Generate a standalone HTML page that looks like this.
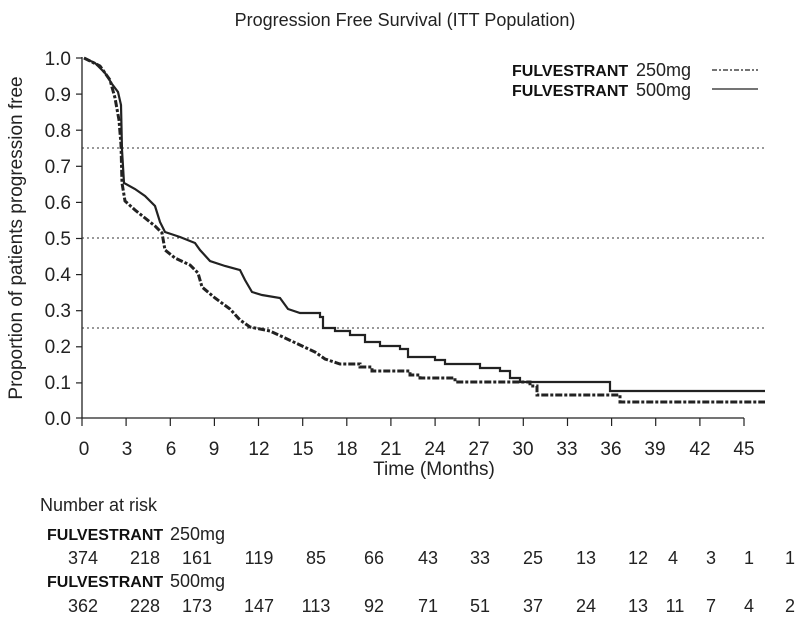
<!DOCTYPE html>
<html><head><meta charset="utf-8"><style>
html,body{margin:0;padding:0;background:#fff;}
svg{display:block;font-family:"Liberation Sans",sans-serif;}
.b{font-weight:bold;font-stretch:condensed;}
</style></head><body>
<svg width="802" height="620" viewBox="0 0 802 620" xmlns="http://www.w3.org/2000/svg">
<text x="405" y="26" font-size="18" text-anchor="middle" fill="#222">Progression Free Survival (ITT Population)</text>
<g stroke="#222" stroke-width="1.3" fill="none">
<line x1="82" y1="57" x2="82" y2="418"/>
<line x1="82" y1="418" x2="744" y2="418"/>
</g>
<g stroke="#222" stroke-width="1.2">
<line x1="76" y1="58" x2="82" y2="58"/><line x1="76" y1="94.1" x2="82" y2="94.1"/><line x1="76" y1="130.2" x2="82" y2="130.2"/><line x1="76" y1="166.3" x2="82" y2="166.3"/><line x1="76" y1="202.4" x2="82" y2="202.4"/><line x1="76" y1="238.5" x2="82" y2="238.5"/><line x1="76" y1="274.6" x2="82" y2="274.6"/><line x1="76" y1="310.7" x2="82" y2="310.7"/><line x1="76" y1="346.8" x2="82" y2="346.8"/><line x1="76" y1="382.9" x2="82" y2="382.9"/><line x1="76" y1="418" x2="82" y2="418"/>
</g>
<g stroke="#222" stroke-width="1.2">
<line x1="82" y1="418" x2="82" y2="426"/><line x1="126.1" y1="418" x2="126.1" y2="426"/><line x1="170.3" y1="418" x2="170.3" y2="426"/><line x1="214.4" y1="418" x2="214.4" y2="426"/><line x1="258.5" y1="418" x2="258.5" y2="426"/><line x1="302.7" y1="418" x2="302.7" y2="426"/><line x1="346.8" y1="418" x2="346.8" y2="426"/><line x1="390.9" y1="418" x2="390.9" y2="426"/><line x1="435.1" y1="418" x2="435.1" y2="426"/><line x1="479.2" y1="418" x2="479.2" y2="426"/><line x1="523.3" y1="418" x2="523.3" y2="426"/><line x1="567.5" y1="418" x2="567.5" y2="426"/><line x1="611.6" y1="418" x2="611.6" y2="426"/><line x1="655.7" y1="418" x2="655.7" y2="426"/><line x1="699.9" y1="418" x2="699.9" y2="426"/><line x1="744" y1="418" x2="744" y2="426"/>
</g>
<g font-size="19" fill="#222" text-anchor="end">
<text x="71" y="65">1.0</text><text x="71" y="101">0.9</text><text x="71" y="137">0.8</text><text x="71" y="173">0.7</text><text x="71" y="209">0.6</text><text x="71" y="245">0.5</text><text x="71" y="281">0.4</text><text x="71" y="317">0.3</text><text x="71" y="353">0.2</text><text x="71" y="389">0.1</text><text x="71" y="425">0.0</text>
</g>
<g font-size="19" fill="#222" text-anchor="middle">
<text x="84" y="455">0</text><text x="127" y="455">3</text><text x="171" y="455">6</text><text x="214" y="455">9</text><text x="259" y="455">12</text><text x="303" y="455">15</text><text x="347" y="455">18</text><text x="391" y="455">21</text><text x="435" y="455">24</text><text x="479" y="455">27</text><text x="523" y="455">30</text><text x="567" y="455">33</text><text x="611" y="455">36</text><text x="655" y="455">39</text><text x="700" y="455">42</text><text x="744" y="455">45</text>
<text x="434" y="475">Time (Months)</text>
</g>
<text transform="translate(22,238) rotate(-90)" font-size="19" fill="#222" text-anchor="middle">Proportion of patients progression free</text>
<g stroke="#333" stroke-width="1" stroke-dasharray="2 3">
<line x1="82" y1="148" x2="765" y2="148"/>
<line x1="82" y1="238" x2="765" y2="238"/>
<line x1="82" y1="328" x2="765" y2="328"/>
</g>
<path d="M84 58 L95 63 L105 73 L112 84 L118 92 L121 105 L122 150 L124 183 L135 189 L145 196 L155 206 L160 222 L165 232 L180 237 L195 243 L200 250 L210 261 L225 266 L240 270 L245 280 L252 292 L262 295 L280 298 L288 309 L300 313 H320 V317 H323 V328 H335 V331 H350 V335 H365 V342 H380 V346 H400 V349 H408 V357 H435 V360 H445 V364 H480 V368 H500 V371 H510 V378 H520 V382 H610 V391 H765" fill="none" stroke="#222" stroke-width="2.2"/>
<path d="M84 58 L100 66 L110 80 L115 98 L119 120 L121 145 L122 183 L125 201 L135 210 L145 218 L155 226 L162 233 L165 250 L175 258 L190 265 L198 273 L202 287 L215 298 L230 309 L240 320 L250 327 L270 331 L285 338 L300 345 L315 352 L325 359 L340 364 H360 V367 H372 V371 H410 V375 H420 V378 H455 V382 H530 V386 H537 V395 H620 V402 H765" fill="none" stroke="#222" stroke-width="3" stroke-dasharray="7 2 3 2"/>
<text x="512" y="76" font-size="16" class="b" fill="#111">FULVESTRANT</text>
<text x="636" y="76" font-size="18" fill="#222">250mg</text>
<line x1="712" y1="70" x2="758" y2="70" stroke="#222" stroke-width="1.2" stroke-dasharray="5 2 2 2"/>
<text x="512" y="96" font-size="16" class="b" fill="#111">FULVESTRANT</text>
<text x="636" y="96" font-size="18" fill="#222">500mg</text>
<line x1="712" y1="89" x2="758" y2="89" stroke="#222" stroke-width="1.3"/>
<text x="40" y="511" font-size="18" fill="#222">Number at risk</text>
<text x="47" y="540" font-size="16" class="b" fill="#111">FULVESTRANT</text>
<text x="170" y="540" font-size="18" fill="#222">250mg</text>
<g font-size="18" fill="#222" text-anchor="middle">
<text x="83" y="564">374</text><text x="145" y="564">218</text><text x="197" y="564">161</text><text x="259" y="564">119</text><text x="316" y="564">85</text><text x="374" y="564">66</text><text x="428" y="564">43</text><text x="480" y="564">33</text><text x="533" y="564">25</text><text x="586" y="564">13</text><text x="638" y="564">12</text><text x="673" y="564">4</text><text x="711" y="564">3</text><text x="749" y="564">1</text><text x="790" y="564">1</text>
</g>
<text x="47" y="587" font-size="16" class="b" fill="#111">FULVESTRANT</text>
<text x="170" y="587" font-size="18" fill="#222">500mg</text>
<g font-size="18" fill="#222" text-anchor="middle">
<text x="83" y="612">362</text><text x="145" y="612">228</text><text x="197" y="612">173</text><text x="259" y="612">147</text><text x="316" y="612">113</text><text x="374" y="612">92</text><text x="428" y="612">71</text><text x="480" y="612">51</text><text x="533" y="612">37</text><text x="586" y="612">24</text><text x="638" y="612">13</text><text x="675" y="612">11</text><text x="711" y="612">7</text><text x="749" y="612">4</text><text x="790" y="612">2</text>
</g>
</svg>
</body></html>
